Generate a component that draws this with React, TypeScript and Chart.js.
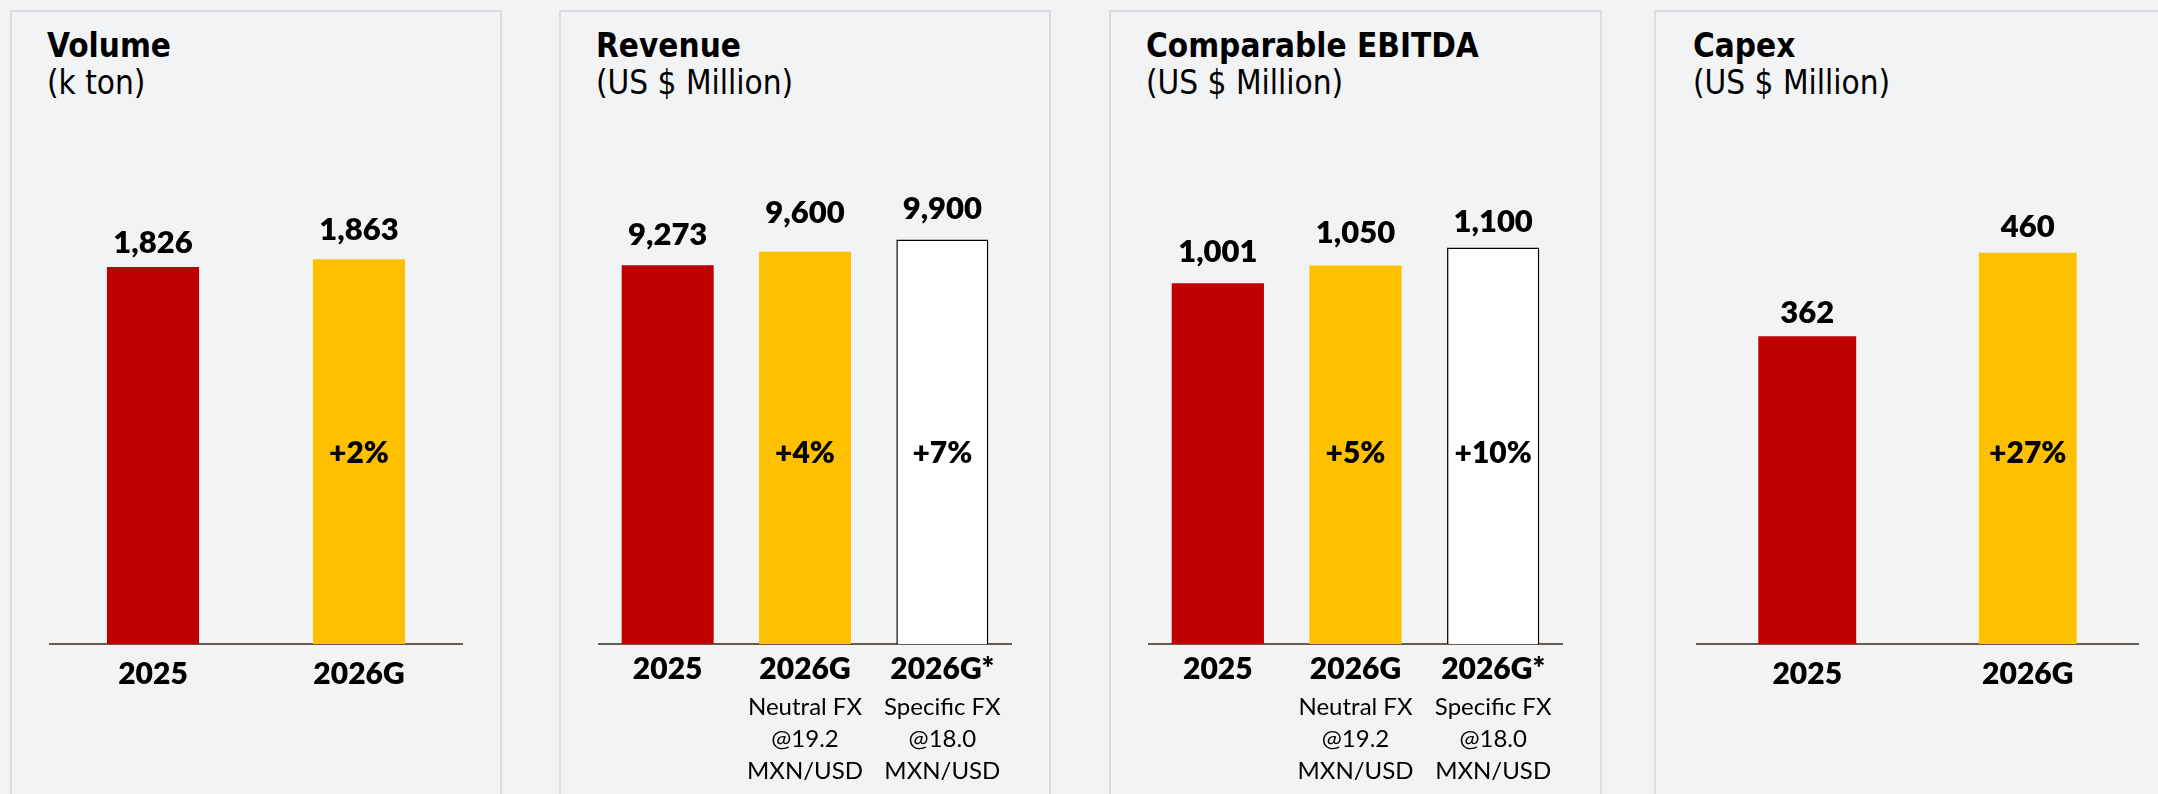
import React, { useEffect, useRef } from "react";
import { Chart, registerables } from "chart.js";

Chart.register(...registerables);

// ---------- data ----------
const volumeCategories = ["2025", "2026G"];
const volumeValues = [1826, 1863];
const volumeGrowth = ["", "+2%"];

const revenueCategories = ["2025", "2026G", "2026G*"];
const revenueValues = [9273, 9600, 9900];
const revenueGrowth = ["", "+4%", "+7%"];

const ebitdaCategories = ["2025", "2026G", "2026G*"];
const ebitdaValues = [1001, 1050, 1100];
const ebitdaGrowth = ["", "+5%", "+10%"];

const capexCategories = ["2025", "2026G"];
const capexValues = [362, 460];
const capexGrowth = ["", "+27%"];

const fxSubLabels = [
  [],
  ["Neutral FX", "@19.2", "MXN/USD"],
  ["Specific FX", "@18.0", "MXN/USD"],
];

// ---------- styles ----------
const BG = "#f2f3f5";
const PANEL_BORDER = "#dcdde0";
const AXIS = "#6b5a4b";
const FILLS = ["#c00000", "#ffc000", "#ffffff"];
const BORDERS = [0, 0, 1.5];
const H = 794;
const LABEL_WEIGHT = "800";

type PanelDef = {
  title: string;
  subtitle: string;
  categories: string[];
  values: number[];
  growth: string[];
  sub: string[][];
  left: number;
  width: number;
  canvasWidth: number;
  padLeft: number;
  padRight: number;
  yMax: number;
  barPct: number;
  tickPad: number;
  valueGap: number[];
  titleLeft: number;
};

const panels: PanelDef[] = [
  {
    title: "Volume", subtitle: "(k ton)",
    categories: volumeCategories, values: volumeValues, growth: volumeGrowth, sub: [],
    left: 10, width: 492, canvasWidth: 492, padLeft: 40, padRight: 40,
    yMax: 2421, barPct: 0.447, tickPad: 12, valueGap: [14, 19], titleLeft: 47,
  },
  {
    title: "Revenue", subtitle: "(US $ Million)",
    categories: revenueCategories, values: revenueValues, growth: revenueGrowth, sub: fxSubLabels,
    left: 559, width: 492, canvasWidth: 492, padLeft: 40, padRight: 40,
    yMax: 12240, barPct: 0.67, tickPad: 7, valueGap: [20, 29, 21], titleLeft: 596,
  },
  {
    title: "Comparable EBITDA", subtitle: "(US $ Million)",
    categories: ebitdaCategories, values: ebitdaValues, growth: ebitdaGrowth, sub: fxSubLabels,
    left: 1109, width: 493, canvasWidth: 493, padLeft: 40, padRight: 40,
    yMax: 1387, barPct: 0.67, tickPad: 7, valueGap: [21, 22, 15], titleLeft: 1146,
  },
  {
    title: "Capex", subtitle: "(US $ Million)",
    categories: capexCategories, values: capexValues, growth: capexGrowth, sub: [],
    left: 1654, width: 530, canvasWidth: 504, padLeft: 43, padRight: 20,
    yMax: 588, barPct: 0.444, tickPad: 12, valueGap: [13, 16], titleLeft: 1693,
  },
];

function makeLabelPlugin(p: PanelDef) {
  return {
    id: "customLabels",
    afterDatasetsDraw(chart: any) {
      const ctx = chart.ctx as CanvasRenderingContext2D;
      const meta = chart.getDatasetMeta(0);
      const xs = chart.scales.x;
      const bottom = chart.chartArea.bottom;
      ctx.save();
      ctx.fillStyle = "#000";
      ctx.textAlign = "center";
      ctx.textBaseline = "alphabetic";
      meta.data.forEach((bar: any, i: number) => {
        ctx.font = `${LABEL_WEIGHT} 31px Lato`;
        ctx.fillText(p.values[i].toLocaleString("en-US"), bar.x, bar.y - p.valueGap[i]);
        if (p.growth[i]) {
          ctx.font = `${LABEL_WEIGHT} 30px Lato`;
          ctx.fillText(p.growth[i], bar.x, bottom - 181);
        }
      });
      p.sub.forEach((lines, i) => {
        lines.forEach((t, j) => {
          ctx.font = "24px Lato";
          ctx.fillText(t, xs.getPixelForTick(i), bottom + 71 + 32 * j);
        });
      });
      ctx.restore();
    },
  };
}

function Panel({ p }: { p: PanelDef }) {
  const ref = useRef<HTMLCanvasElement>(null);
  useEffect(() => {
    if (!ref.current) return;
    const n = p.values.length;
    const axisH = 30 * 1.2 + 2 * p.tickPad;
    const chart = new Chart(ref.current, {
      type: "bar",
      data: {
        labels: p.categories,
        datasets: [
          {
            data: p.values,
            backgroundColor: FILLS.slice(0, n),
            borderColor: "#000000",
            borderWidth: BORDERS.slice(0, n),
            borderSkipped: "bottom",
            barPercentage: p.barPct,
            categoryPercentage: 1,
          },
        ],
      },
      options: {
        responsive: false,
        animation: false,
        devicePixelRatio: 1,
        layout: {
          padding: { left: p.padLeft, right: p.padRight, top: 144, bottom: H - 644 - axisH },
        },
        plugins: {
          legend: { display: false },
          tooltip: { enabled: false },
          title: { display: false },
        },
        scales: {
          x: {
            grid: { display: false, drawTicks: false },
            border: { display: true, color: AXIS, width: 2 },
            ticks: {
              color: "#000",
              font: { family: "Lato", size: 30, weight: LABEL_WEIGHT, lineHeight: 1.2 },
              padding: p.tickPad,
              maxRotation: 0,
              autoSkip: false,
            },
          },
          y: { display: false, min: 0, max: p.yMax },
        },
      } as any,
      plugins: [makeLabelPlugin(p)],
    });
    return () => chart.destroy();
  }, [p]);

  return (
    <>
      <div
        style={{
          position: "absolute",
          left: p.left,
          top: 10,
          width: p.width,
          height: 820,
          boxSizing: "border-box",
          border: `2px solid ${PANEL_BORDER}`,
          background: BG,
        }}
      />
      <div
        style={{
          position: "absolute",
          left: p.titleLeft,
          top: 29,
          fontFamily: '"DejaVu Sans Condensed", "DejaVu Sans", sans-serif',
          fontStretch: "condensed",
          fontWeight: "bold",
          fontSize: 33,
          lineHeight: "33px",
          color: "#000",
          whiteSpace: "nowrap",
        }}
      >
        {p.title}
      </div>
      <div
        style={{
          position: "absolute",
          left: p.titleLeft,
          top: 66,
          fontFamily: '"DejaVu Sans Condensed", "DejaVu Sans", sans-serif',
          fontStretch: "condensed",
          fontSize: 33,
          lineHeight: "33px",
          color: "#000",
          whiteSpace: "nowrap",
        }}
      >
        {p.subtitle}
      </div>
      <canvas
        ref={ref}
        width={p.canvasWidth}
        height={H}
        style={{ position: "absolute", left: p.left, top: 0, width: p.canvasWidth, height: H }}
      />
    </>
  );
}

export default function App() {
  return (
    <div
      style={{
        position: "absolute",
        left: 0,
        top: 0,
        width: 2158,
        height: H,
        overflow: "hidden",
        background: BG,
      }}
    >
      {panels.map((p, i) => (
        <Panel key={i} p={p} />
      ))}
    </div>
  );
}
